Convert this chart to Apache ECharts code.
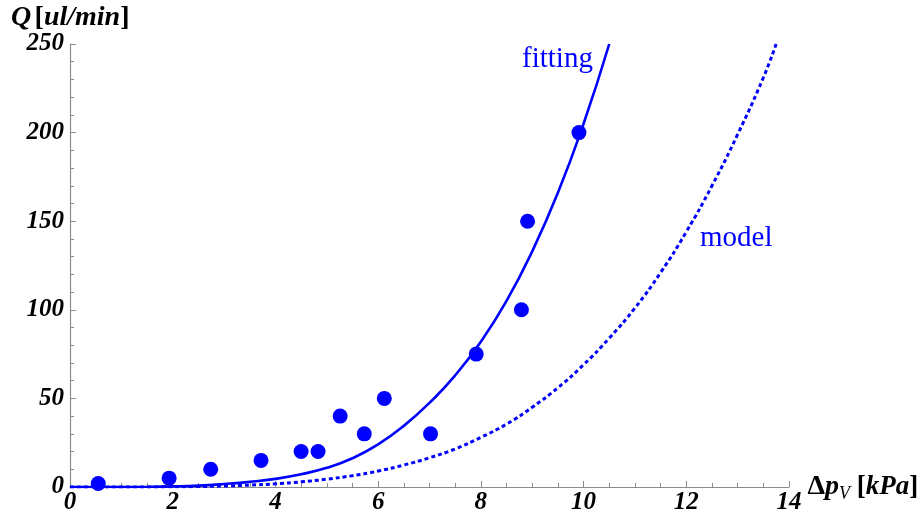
<!DOCTYPE html>
<html>
<head>
<meta charset="utf-8">
<script src="https://cdn.jsdelivr.net/npm/echarts@6/dist/echarts.min.js"></script>
<style>html,body{margin:0;padding:0;background:#fff}#c{width:920px;height:518px}</style>
</head>
<body>
<div id="c"></div>
<script>
// measured points
const pointX = [0.55, 1.93, 2.74, 3.72, 4.50, 4.83, 5.26, 5.73, 6.12, 7.02, 7.91, 8.79, 8.91, 9.91];
const pointQ = [2, 5, 10, 15, 20, 20, 40, 30, 50, 30, 75, 100, 150, 200];
// fitting curve
const fitX = [0, 0.5, 1, 1.5, 2, 2.5, 3, 3.5, 4, 4.5, 5, 5.5, 6, 6.5, 7, 7.5, 8, 8.5, 9, 9.5, 10, 10.5];
const fitQ = [0, 0, 0.02, 0.1, 0.33, 0.8, 1.7, 2.9, 4.6, 7.2, 10.8, 16.2, 24, 34.5, 47.5, 63, 82, 105, 133, 166, 205, 250];
// model curve
const modelX = [0, 0.5, 1, 1.5, 2, 2.5, 3, 3.5, 4, 4.5, 5, 5.5, 6, 6.5, 7, 7.5, 8, 8.5, 9, 9.5, 10, 10.5, 11, 11.5, 12, 12.5, 13, 13.5, 13.75];
const modelQ = [0, 0, 0.01, 0.04, 0.11, 0.27, 0.57, 1.05, 1.8, 2.9, 4.4, 6.4, 9.0, 12.4, 16.5, 21.5, 28, 35.5, 45, 56, 69, 84, 101, 121, 144, 170, 199, 231, 250];
const xTicks = [0, 2, 4, 6, 8, 10, 12, 14];
const yTicks = [0, 50, 100, 150, 200, 250];

const BLUE = '#0000ff';
const SERIF = '"Liberation Serif", "DejaVu Serif", serif';
const zip = (a, b) => a.map((v, i) => [v, b[i]]);

const chart = echarts.init(document.getElementById('c'), null, {renderer: 'canvas'});
const axisCommon = {
  axisLine: {onZero: true, lineStyle: {color: '#8c8c8c', width: 1.2}},
  axisTick: {inside: true, length: 6, lineStyle: {color: '#8c8c8c'}},
  minorTick: {show: true, length: 4, lineStyle: {color: '#8c8c8c'}},
  splitLine: {show: false},
  axisLabel: {fontFamily: SERIF, fontStyle: 'italic', fontWeight: 'bold', fontSize: 25, color: '#000'}
};
chart.setOption({
  animation: false,
  backgroundColor: '#fff',
  grid: {left: 70, right: 131, top: 44, bottom: 31, containLabel: false, outerBoundsMode: 'none'},
  xAxis: Object.assign({}, axisCommon, {
    type: 'value', min: xTicks[0], max: xTicks[xTicks.length - 1], interval: 2,
    minorTick: Object.assign({}, axisCommon.minorTick, {splitNumber: 4}),
    axisLabel: Object.assign({}, axisCommon.axisLabel, {margin: 3, showMinLabel: true, showMaxLabel: true}),
    name: '{d|Δ}{p|p}{s|V}{n| [}{i|kPa}{n|]}',
    nameLocation: 'end', nameGap: 12,
    nameTextStyle: {
      align: 'left', verticalAlign: 'middle', padding: [0, 0, 0, 0],
      rich: {
        d: {fontFamily: SERIF, fontWeight: 'bold', fontSize: 28, color: '#000'},
        p: {fontFamily: SERIF, fontWeight: 'bold', fontStyle: 'italic', fontSize: 28, color: '#000'},
        s: {fontFamily: SERIF, fontStyle: 'italic', fontSize: 18, color: '#000', padding: [14, 0, 0, 0]},
        n: {fontFamily: SERIF, fontWeight: 'bold', fontSize: 27, color: '#000'},
        i: {fontFamily: SERIF, fontWeight: 'bold', fontStyle: 'italic', fontSize: 27, color: '#000'}
      }
    }
  }),
  yAxis: Object.assign({}, axisCommon, {
    type: 'value', min: yTicks[0], max: yTicks[yTicks.length - 1], interval: 50,
    minorTick: Object.assign({}, axisCommon.minorTick, {splitNumber: 5}),
    axisLabel: Object.assign({}, axisCommon.axisLabel, {margin: 6}),
    name: '{q|Q} {b|[}{i|ul/min}{b|]}',
    nameLocation: 'end', nameGap: 9,
    nameTextStyle: {
      align: 'left', verticalAlign: 'bottom', padding: [0, 0, 0, -59],
      rich: {
        q: {fontFamily: SERIF, fontWeight: 'bold', fontStyle: 'italic', fontSize: 28, color: '#000'},
        b: {fontFamily: SERIF, fontWeight: 'bold', fontSize: 28, color: '#000'},
        i: {fontFamily: SERIF, fontWeight: 'bold', fontStyle: 'italic', fontSize: 28, color: '#000'}
      }
    }
  }),
  series: [
    {name: 'model', type: 'line', data: zip(modelX, modelQ), smooth: true, showSymbol: false,
     lineStyle: {color: BLUE, width: 3, type: [4, 3]}, z: 2},
    {name: 'fitting', type: 'line', data: zip(fitX, fitQ), smooth: true, showSymbol: false,
     lineStyle: {color: BLUE, width: 2.6}, z: 3},
    {name: 'data', type: 'scatter', data: zip(pointX, pointQ), symbolSize: 15,
     itemStyle: {color: BLUE, opacity: 1}, z: 4}
  ],
  graphic: [
    {type: 'text', left: 522, top: 45, style: {text: 'fitting', font: '29px ' + SERIF, fill: BLUE}},
    {type: 'text', left: 700, top: 224, style: {text: 'model', font: '29px ' + SERIF, fill: BLUE}}
  ]
});
</script>
</body>
</html>
